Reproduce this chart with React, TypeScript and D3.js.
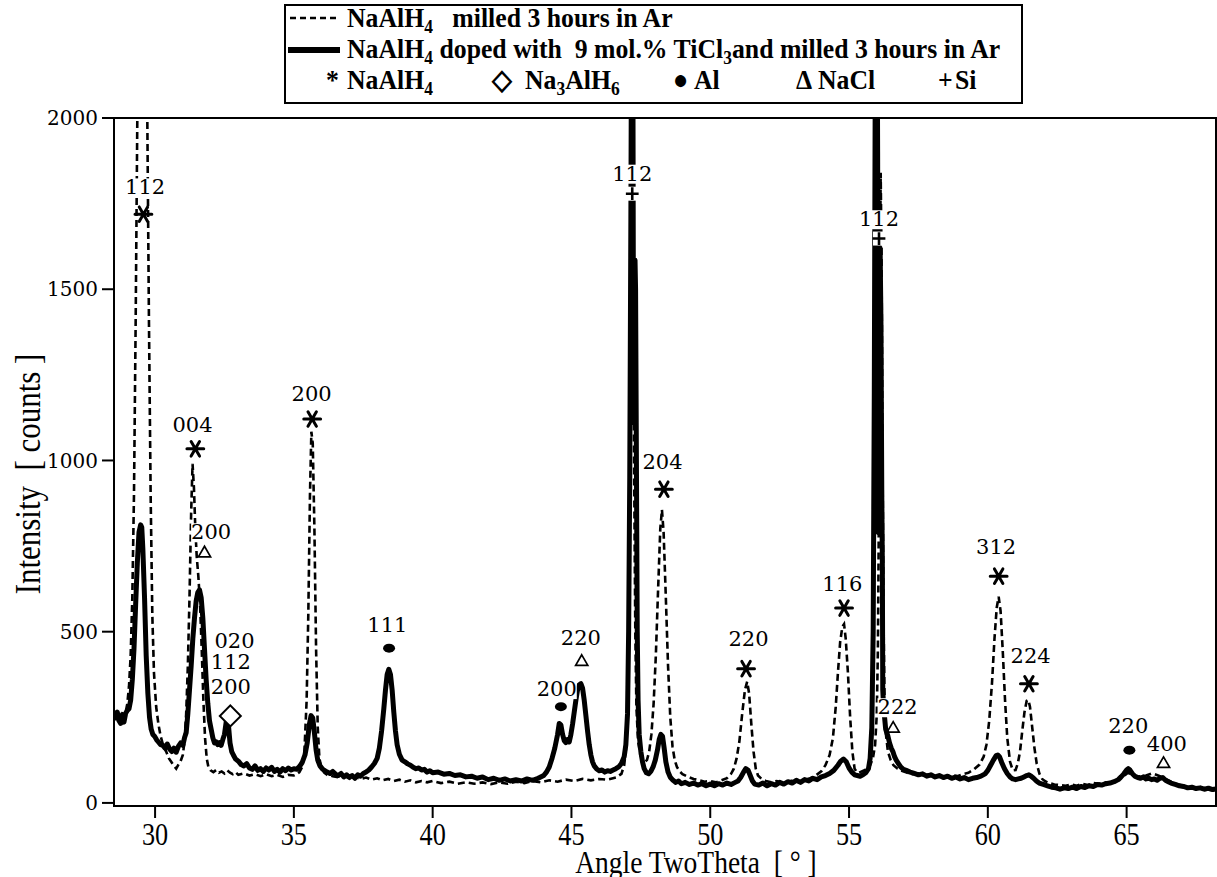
import React, { useEffect, useRef } from 'react';
import * as d3 from 'd3';

// NaAlH4 milled 3 hours in Ar  [2theta, counts]
const milled: [number, number][] = [
  [28.52, 270], [28.58, 255], [28.64, 262], [28.7, 250], [28.76, 240], [28.82, 258], [28.88, 250], [28.94, 265],
  [29.0, 290], [29.06, 340], [29.12, 430], [29.18, 600], [29.24, 900], [29.3, 1400], [29.36, 2000], [29.42, 2600],
  [29.5, 3100], [29.58, 3200], [29.66, 2700], [29.72, 2000], [29.78, 1400], [29.84, 900], [29.9, 550], [29.96, 380],
  [30.04, 280], [30.12, 230], [30.2, 195], [30.3, 165], [30.4, 150], [30.5, 130], [30.6, 118], [30.68, 108],
  [30.76, 100], [30.84, 112], [30.92, 122], [31.0, 140], [31.06, 180], [31.12, 260], [31.18, 400], [31.24, 600],
  [31.3, 850], [31.35, 990], [31.4, 920], [31.45, 800], [31.5, 720], [31.56, 660], [31.62, 580], [31.68, 450],
  [31.74, 300], [31.8, 190], [31.86, 130], [31.92, 105], [32.0, 95], [32.1, 90], [32.2, 96], [32.3, 88],
  [32.4, 92], [32.5, 86], [32.6, 95], [32.7, 88], [32.8, 84], [32.9, 90], [33.0, 82], [33.2, 86], [33.4, 80],
  [33.6, 84], [33.8, 78], [34.0, 84], [34.2, 78], [34.4, 82], [34.6, 76], [34.8, 82], [35.0, 80], [35.1, 84],
  [35.2, 90], [35.3, 105], [35.38, 150], [35.46, 300], [35.52, 550], [35.58, 900], [35.63, 1084], [35.68, 1050],
  [35.74, 800], [35.8, 450], [35.86, 220], [35.92, 130], [36.0, 100], [36.1, 88], [36.2, 82], [36.4, 78],
  [36.6, 75], [36.8, 80], [37.0, 72], [37.2, 76], [37.4, 70], [37.6, 74], [37.8, 68], [38.0, 72], [38.2, 66],
  [38.4, 70], [38.6, 64], [38.8, 68], [39.0, 62], [39.2, 66], [39.4, 60], [39.6, 64], [39.8, 60], [40.0, 64],
  [40.3, 58], [40.6, 62], [40.9, 56], [41.2, 60], [41.5, 56], [41.8, 60], [42.1, 55], [42.4, 60], [42.7, 56],
  [43.0, 62], [43.3, 58], [43.6, 64], [43.9, 60], [44.2, 66], [44.5, 62], [44.8, 68], [45.1, 64], [45.4, 70],
  [45.7, 66], [46.0, 70], [46.3, 68], [46.6, 74], [46.8, 85], [46.9, 110], [46.98, 170], [47.04, 350],
  [47.08, 700], [47.12, 1200], [47.16, 1700], [47.19, 1780], [47.22, 1500], [47.26, 950], [47.3, 500],
  [47.34, 280], [47.4, 180], [47.48, 140], [47.56, 125], [47.64, 120], [47.72, 125], [47.8, 150], [47.88, 200],
  [47.96, 290], [48.04, 430], [48.12, 620], [48.2, 800], [48.26, 856], [48.32, 790], [48.4, 600], [48.48, 400],
  [48.56, 250], [48.64, 165], [48.72, 125], [48.8, 105], [48.9, 92], [49.0, 84], [49.2, 76], [49.4, 70],
  [49.6, 66], [49.8, 62], [50.0, 64], [50.2, 60], [50.4, 66], [50.6, 72], [50.75, 85], [50.85, 100],
  [50.95, 130], [51.05, 180], [51.15, 260], [51.25, 330], [51.33, 354], [51.4, 320], [51.48, 230], [51.56, 150],
  [51.64, 100], [51.72, 80], [51.85, 70], [52.0, 64], [52.2, 60], [52.4, 64], [52.6, 58], [52.8, 62],
  [53.0, 66], [53.2, 60], [53.4, 68], [53.6, 72], [53.8, 80], [54.0, 92], [54.15, 110], [54.3, 140],
  [54.42, 190], [54.52, 280], [54.6, 380], [54.68, 470], [54.76, 515], [54.82, 522], [54.88, 480], [54.96, 380],
  [55.04, 250], [55.12, 150], [55.2, 100], [55.28, 90], [55.36, 88], [55.46, 92], [55.56, 96], [55.66, 100],
  [55.76, 110], [55.86, 130], [55.94, 170], [56.0, 260], [56.04, 450], [56.08, 900], [56.11, 1500],
  [56.14, 1840], [56.17, 1600], [56.2, 1100], [56.24, 550], [56.28, 300], [56.33, 200], [56.4, 150],
  [56.5, 125], [56.6, 110], [56.75, 100], [56.9, 94], [57.1, 88], [57.3, 84], [57.5, 86], [57.7, 80],
  [57.9, 84], [58.1, 78], [58.3, 82], [58.5, 76], [58.7, 80], [58.9, 78], [59.1, 84], [59.3, 88], [59.5, 98],
  [59.7, 112], [59.85, 135], [59.95, 170], [60.05, 240], [60.15, 350], [60.24, 480], [60.32, 570], [60.39, 602],
  [60.46, 560], [60.54, 440], [60.62, 300], [60.7, 190], [60.8, 120], [60.9, 95], [61.0, 96], [61.08, 115],
  [61.16, 150], [61.24, 210], [61.32, 265], [61.4, 298], [61.46, 301], [61.52, 280], [61.6, 220], [61.68, 160],
  [61.76, 115], [61.86, 85], [61.96, 70], [62.05, 64], [62.2, 58], [62.4, 54], [62.6, 52], [62.8, 50],
  [63.0, 54], [63.2, 50], [63.4, 56], [63.6, 52], [63.8, 58], [64.0, 56], [64.2, 60], [64.4, 58], [64.6, 64],
  [64.8, 72], [64.95, 82], [65.05, 88], [65.15, 84], [65.3, 76], [65.5, 78], [65.7, 80], [65.9, 86],
  [66.0, 84], [66.2, 78], [66.4, 70], [66.6, 62], [66.8, 55], [67.0, 50], [67.2, 46], [67.4, 44], [67.6, 42],
  [67.8, 40], [68.0, 38], [68.22, 37],
];

// NaAlH4 doped with 9 mol.% TiCl3 and milled 3 hours in Ar  [2theta, counts]
const doped: [number, number][] = [
  [28.52, 262], [28.58, 248], [28.64, 265], [28.7, 240], [28.76, 232], [28.82, 258], [28.88, 236], [28.94, 262],
  [29.0, 270], [29.06, 275], [29.12, 300], [29.18, 360], [29.24, 450], [29.3, 580], [29.36, 700], [29.42, 790],
  [29.48, 812], [29.52, 805], [29.56, 740], [29.62, 600], [29.68, 430], [29.74, 320], [29.8, 250], [29.86, 215],
  [29.92, 200], [29.98, 195], [30.05, 185], [30.12, 178], [30.2, 170], [30.28, 168], [30.36, 160], [30.44, 172],
  [30.52, 158], [30.6, 150], [30.68, 160], [30.76, 148], [30.84, 165], [30.92, 175], [31.0, 168], [31.06, 190],
  [31.12, 205], [31.18, 260], [31.24, 330], [31.3, 400], [31.36, 480], [31.42, 540], [31.48, 590], [31.54, 615],
  [31.6, 622], [31.66, 600], [31.72, 540], [31.78, 450], [31.84, 360], [31.9, 290], [31.96, 240], [32.02, 215],
  [32.08, 190], [32.14, 175], [32.2, 178], [32.26, 170], [32.32, 176], [32.38, 168], [32.44, 185], [32.5, 200],
  [32.56, 235], [32.6, 255], [32.64, 230], [32.7, 175], [32.76, 150], [32.82, 140], [32.9, 128], [33.0, 122],
  [33.1, 112], [33.2, 108], [33.3, 115], [33.4, 102], [33.5, 98], [33.6, 108], [33.7, 95], [33.8, 100],
  [33.9, 92], [34.0, 102], [34.1, 96], [34.2, 104], [34.3, 92], [34.4, 98], [34.5, 90], [34.6, 100], [34.7, 94],
  [34.8, 102], [34.9, 96], [35.0, 100], [35.1, 98], [35.2, 106], [35.3, 118], [35.4, 140], [35.48, 175],
  [35.56, 230], [35.62, 255], [35.68, 248], [35.74, 205], [35.8, 155], [35.86, 125], [35.94, 108], [36.02, 100],
  [36.1, 95], [36.2, 90], [36.3, 86], [36.4, 92], [36.5, 84], [36.6, 80], [36.7, 86], [36.8, 76], [36.9, 82],
  [37.0, 74], [37.1, 80], [37.2, 72], [37.3, 82], [37.4, 78], [37.5, 86], [37.6, 90], [37.7, 96], [37.8, 105],
  [37.9, 115], [38.0, 130], [38.08, 160], [38.16, 210], [38.24, 275], [38.3, 330], [38.36, 375], [38.42, 390],
  [38.48, 375], [38.54, 330], [38.6, 265], [38.66, 210], [38.72, 170], [38.8, 142], [38.9, 125], [39.0, 120],
  [39.1, 114], [39.2, 110], [39.3, 104], [39.4, 100], [39.5, 102], [39.6, 96], [39.7, 98], [39.8, 90],
  [39.9, 94], [40.0, 88], [40.2, 90], [40.4, 84], [40.6, 86], [40.8, 80], [41.0, 82], [41.2, 76], [41.4, 78],
  [41.6, 72], [41.8, 76], [42.0, 68], [42.2, 72], [42.4, 66], [42.6, 70], [42.8, 64], [43.0, 68], [43.2, 64],
  [43.4, 70], [43.6, 66], [43.8, 72], [44.0, 80], [44.1, 90], [44.2, 105], [44.3, 130], [44.4, 160], [44.5, 200],
  [44.56, 232], [44.62, 228], [44.68, 200], [44.74, 182], [44.8, 176], [44.86, 185], [44.92, 178], [44.98, 200],
  [45.04, 230], [45.1, 265], [45.16, 300], [45.22, 330], [45.28, 345], [45.34, 348], [45.4, 335], [45.46, 300],
  [45.52, 255], [45.58, 210], [45.64, 170], [45.7, 140], [45.76, 120], [45.82, 108], [45.9, 100], [46.0, 94],
  [46.1, 96], [46.2, 90], [46.3, 94], [46.4, 92], [46.5, 96], [46.6, 100], [46.7, 105], [46.8, 115], [46.9, 135],
  [46.96, 170], [47.02, 260], [47.06, 500], [47.1, 950], [47.14, 1700], [47.17, 2400], [47.19, 2700],
  [47.21, 2300], [47.23, 1500], [47.245, 1110], [47.26, 1300], [47.29, 1585], [47.31, 1500], [47.34, 1000],
  [47.37, 500], [47.4, 300], [47.44, 200], [47.5, 150], [47.56, 120], [47.62, 100], [47.7, 88], [47.78, 85],
  [47.86, 92], [47.94, 105], [48.02, 125], [48.1, 155], [48.16, 185], [48.22, 200], [48.28, 195], [48.34, 160],
  [48.4, 120], [48.48, 90], [48.56, 75], [48.66, 66], [48.76, 60], [48.86, 64], [48.96, 56], [49.1, 60],
  [49.25, 54], [49.4, 58], [49.55, 52], [49.7, 56], [49.85, 50], [50.0, 55], [50.15, 50], [50.3, 56],
  [50.45, 52], [50.6, 58], [50.75, 54], [50.9, 60], [51.0, 64], [51.1, 75], [51.2, 90], [51.28, 100],
  [51.36, 96], [51.44, 80], [51.52, 64], [51.6, 55], [51.75, 52], [51.9, 58], [52.05, 50], [52.2, 56],
  [52.35, 52], [52.5, 60], [52.65, 55], [52.8, 62], [52.95, 58], [53.1, 66], [53.25, 60], [53.4, 68],
  [53.55, 64], [53.7, 72], [53.85, 68], [54.0, 76], [54.15, 80], [54.3, 86], [54.45, 95], [54.6, 110],
  [54.7, 122], [54.8, 128], [54.9, 120], [55.0, 102], [55.1, 90], [55.2, 82], [55.3, 80], [55.4, 78],
  [55.5, 82], [55.6, 88], [55.7, 100], [55.76, 130], [55.82, 220], [55.87, 500], [55.91, 1200], [55.94, 2000],
  [55.97, 2700], [56.0, 2600], [56.03, 1900], [56.06, 789], [56.09, 1150], [56.12, 1620], [56.15, 1400],
  [56.18, 900], [56.2, 700], [56.215, 330], [56.24, 290], [56.28, 250], [56.32, 215], [56.36, 205], [56.4, 195],
  [56.46, 175], [56.52, 160], [56.58, 150], [56.64, 135], [56.7, 125], [56.78, 115], [56.86, 105], [56.96, 98],
  [57.06, 95], [57.2, 90], [57.35, 86], [57.5, 82], [57.65, 85], [57.8, 78], [57.95, 82], [58.1, 76],
  [58.25, 80], [58.4, 74], [58.55, 78], [58.7, 72], [58.85, 76], [59.0, 70], [59.15, 74], [59.3, 68],
  [59.45, 72], [59.6, 74], [59.75, 78], [59.9, 85], [60.0, 95], [60.1, 110], [60.2, 125], [60.3, 138],
  [60.36, 140], [60.42, 135], [60.5, 118], [60.6, 100], [60.7, 86], [60.8, 76], [60.9, 70], [61.0, 68],
  [61.1, 70], [61.2, 72], [61.3, 76], [61.4, 80], [61.48, 82], [61.56, 78], [61.65, 72], [61.75, 64],
  [61.85, 58], [62.0, 54], [62.15, 50], [62.3, 46], [62.45, 44], [62.6, 40], [62.75, 44], [62.9, 42],
  [63.05, 46], [63.2, 42], [63.35, 48], [63.5, 45], [63.65, 50], [63.8, 48], [63.95, 54], [64.1, 52],
  [64.25, 56], [64.4, 58], [64.55, 62], [64.7, 68], [64.8, 76], [64.9, 85], [65.0, 96], [65.06, 100],
  [65.12, 96], [65.2, 86], [65.3, 78], [65.4, 74], [65.5, 72], [65.6, 76], [65.7, 70], [65.8, 72], [65.9, 68],
  [66.0, 70], [66.1, 66], [66.2, 72], [66.3, 74], [66.4, 66], [66.5, 62], [66.6, 58], [66.75, 54], [66.9, 50],
  [67.05, 48], [67.2, 44], [67.35, 46], [67.5, 42], [67.65, 44], [67.8, 40], [67.95, 43], [68.1, 39], [68.22, 41],
];

const xTicks = [30, 35, 40, 45, 50, 55, 60, 65];
const yTicks = [0, 500, 1000, 1500, 2000];

// Miller index labels [2theta, counts, text]
const hklLabels: [number, number, string][] = [
  [29.64, 1799, '112'], [31.35, 1106, '004'], [32.02, 792, '200'], [32.86, 475, '020'], [32.73, 412, '112'],
  [32.73, 341, '200'], [35.64, 1197, '200'], [38.37, 522, '111'], [44.47, 334, '200'], [45.34, 484, '220'],
  [47.19, 1839, '112'], [48.28, 997, '204'], [51.38, 479, '220'], [54.76, 642, '116'], [56.08, 1706, '112'],
  [56.75, 281, '222'], [60.3, 749, '312'], [61.54, 432, '224'], [65.06, 227, '220'], [66.45, 174, '400'],
];

// phase markers [2theta, counts]
const naAlH4Marks: [number, number][] = [
  [29.58, 1719], [31.45, 1034], [35.66, 1121], [48.33, 916], [51.29, 392], [54.82, 569], [60.39, 662], [61.48, 348],
];
const naClMarks: [number, number][] = [[31.78, 729], [45.37, 412], [56.59, 217], [66.33, 114]];
const alMarks: [number, number][] = [[38.43, 452], [44.62, 281], [65.1, 154]];
const na3AlH6Marks: [number, number][] = [[32.71, 254]];
const siMarks: [number, number][] = [[47.19, 1779], [56.08, 1648]];

const App = () => {
  const svgRef = useRef<SVGSVGElement>(null);

  useEffect(() => {
    const svg = d3.select(svgRef.current);
    svg.selectAll('*').remove();

    const x = d3.scaleLinear().domain([28.52, 68.22]).range([114, 1216]);
    const y = d3.scaleLinear().domain([-9, 2000]).range([806, 118]);
    const [x0, x1] = x.range();
    const [y0, y1] = y.range();

    svg.append('defs').append('clipPath').attr('id', 'plotclip')
      .append('rect').attr('x', x0).attr('y', y1).attr('width', x1 - x0).attr('height', y0 - y1);

    const line = d3.line<[number, number]>().x(d => x(d[0])).y(d => y(d[1]));

    const plot = svg.append('g').attr('clip-path', 'url(#plotclip)');
    plot.append('path').datum(doped).attr('d', line)
      .attr('fill', 'none').attr('stroke', '#000').attr('stroke-width', 5).attr('stroke-linejoin', 'round');
    plot.append('path').datum(milled).attr('d', line)
      .attr('fill', 'none').attr('stroke', '#000').attr('stroke-width', 2.6).attr('stroke-dasharray', '7,4');

    // frame
    svg.append('rect').attr('x', x0).attr('y', y1).attr('width', x1 - x0).attr('height', y0 - y1)
      .attr('fill', 'none').attr('stroke', '#000').attr('stroke-width', 2);

    // x ticks
    const xt = svg.append('g');
    xTicks.forEach(t => {
      xt.append('line').attr('x1', x(t)).attr('x2', x(t)).attr('y1', y0).attr('y2', y0 + 12)
        .attr('stroke', '#000').attr('stroke-width', 2);
      xt.append('text').attr('transform', `translate(${x(t)},${y0 + 39}) scale(0.82,1)`)
        .attr('text-anchor', 'middle').attr('font-family', 'Liberation Serif').attr('font-size', 32)
        .text(t);
    });

    // y ticks
    const yt = svg.append('g');
    yTicks.forEach(t => {
      yt.append('line').attr('x1', x0 - 12).attr('x2', x0).attr('y1', y(t)).attr('y2', y(t))
        .attr('stroke', '#000').attr('stroke-width', 2);
      yt.append('text').attr('x', x0 - 16).attr('y', y(t)).attr('dy', '0.36em')
        .attr('text-anchor', 'end').attr('font-family', 'DejaVu Serif').attr('font-size', 20)
        .text(t);
    });

    // axis titles
    svg.append('text').attr('transform', `translate(696,873) scale(0.86,1)`)
      .attr('text-anchor', 'middle').attr('font-family', 'Liberation Serif').attr('font-size', 32)
      .style('white-space', 'pre').text('Angle TwoTheta  [ \u00b0 ]');
    svg.append('text').attr('transform', `translate(40,474) rotate(-90) scale(0.86,1)`)
      .attr('text-anchor', 'middle').attr('font-family', 'Liberation Serif').attr('font-size', 36)
      .style('white-space', 'pre').text('Intensity  [ counts ]');

    // peak labels, knocked out of the curves like the original
    const ann = svg.append('g');
    hklLabels.forEach(([a, c, s]) => {
      const t = ann.append('text').attr('x', x(a)).attr('y', y(c)).attr('dy', '0.36em')
        .attr('text-anchor', 'middle').attr('font-family', 'DejaVu Serif').attr('font-size', 21)
        .attr('fill', '#000').text(s);
      const b = (t.node() as SVGTextElement).getBBox();
      ann.insert('rect', () => t.node() as SVGTextElement)
        .attr('x', b.x).attr('y', b.y + 3).attr('width', b.width).attr('height', b.height - 5).attr('fill', '#fff');
    });
    const sym = (type: d3.SymbolType, size: number) => d3.symbol().type(type).size(size)();
    naAlH4Marks.forEach(([a, c]) => {
      ann.append('path').attr('d', sym(d3.symbolAsterisk, 200))
        .attr('transform', `translate(${x(a)},${y(c)}) rotate(90)`)
        .attr('fill', 'none').attr('stroke', '#000').attr('stroke-width', 3).attr('stroke-linecap', 'round');
    });
    naClMarks.forEach(([a, c]) => {
      ann.append('path').attr('d', sym(d3.symbolTriangle, 64))
        .attr('transform', `translate(${x(a)},${y(c)})`)
        .attr('fill', 'none').attr('stroke', '#000').attr('stroke-width', 1.7);
    });
    alMarks.forEach(([a, c]) => {
      ann.append('ellipse').attr('cx', x(a)).attr('cy', y(c)).attr('rx', 6).attr('ry', 4.5).attr('fill', '#000');
    });
    na3AlH6Marks.forEach(([a, c]) => {
      ann.append('path').attr('d', sym(d3.symbolSquare, 220))
        .attr('transform', `translate(${x(a)},${y(c)}) rotate(45)`)
        .attr('fill', '#fff').attr('stroke', '#000').attr('stroke-width', 2);
    });
    siMarks.forEach(([a, c]) => {
      ann.append('rect').attr('x', x(a) - 6).attr('y', y(c) - 7).attr('width', 12).attr('height', 14)
        .attr('fill', '#fff');
      ann.append('path').attr('d', sym(d3.symbolPlus, 55))
        .attr('transform', `translate(${x(a)},${y(c)})`)
        .attr('fill', 'none').attr('stroke', '#000').attr('stroke-width', 2.6);
    });

    // legend
    const lg = svg.append('g').attr('font-family', 'Liberation Serif').attr('font-weight', 'bold');
    lg.append('rect').attr('x', 285).attr('y', 5).attr('width', 737).attr('height', 98)
      .attr('fill', '#fff').attr('stroke', '#000').attr('stroke-width', 2);
    lg.append('line').attr('x1', 290).attr('x2', 340).attr('y1', 18).attr('y2', 18)
      .attr('stroke', '#000').attr('stroke-width', 2.4).attr('stroke-dasharray', '6,4');
    lg.append('line').attr('x1', 288).attr('x2', 340).attr('y1', 50).attr('y2', 50)
      .attr('stroke', '#000').attr('stroke-width', 6);

    const legendText = (px: number, py: number, parts: [string, boolean][]) => {
      const t = lg.append('text').attr('transform', `translate(${px},${py}) scale(0.92,1)`)
        .style('white-space', 'pre');
      let shifted = false;
      parts.forEach(([s, sub]) => {
        const dy = sub ? (shifted ? 0 : 6) : (shifted ? -6 : 0);
        shifted = sub;
        t.append('tspan').attr('font-size', sub ? 19 : 28).attr('dy', dy).text(s);
      });
    };
    legendText(347, 27, [['NaAlH', false], ['4', true], ['   milled 3 hours in Ar', false]]);
    legendText(347, 58, [['NaAlH', false], ['4', true], [' doped with  9 mol.% TiCl', false], ['3', true],
      ['and milled 3 hours in Ar', false]]);
    legendText(326, 89, [['*', false]]);
    legendText(347, 89, [['NaAlH', false], ['4', true]]);
    legendText(492, 89, [['\u25c7', false]]);
    legendText(525, 89, [['Na', false], ['3', true], ['AlH', false], ['6', true]]);
    legendText(673, 89, [['\u25cf', false]]);
    legendText(694, 89, [['Al', false]]);
    legendText(796, 89, [['\u0394', false]]);
    legendText(818, 89, [['NaCl', false]]);
    legendText(938, 89, [['+', false]]);
    legendText(955, 89, [['Si', false]]);
  }, []);

  return (
    <svg ref={svgRef} width={1217} height={877}
      style={{ position: 'absolute', left: 0, top: 0, background: '#fff' }} />
  );
};

export default App;
